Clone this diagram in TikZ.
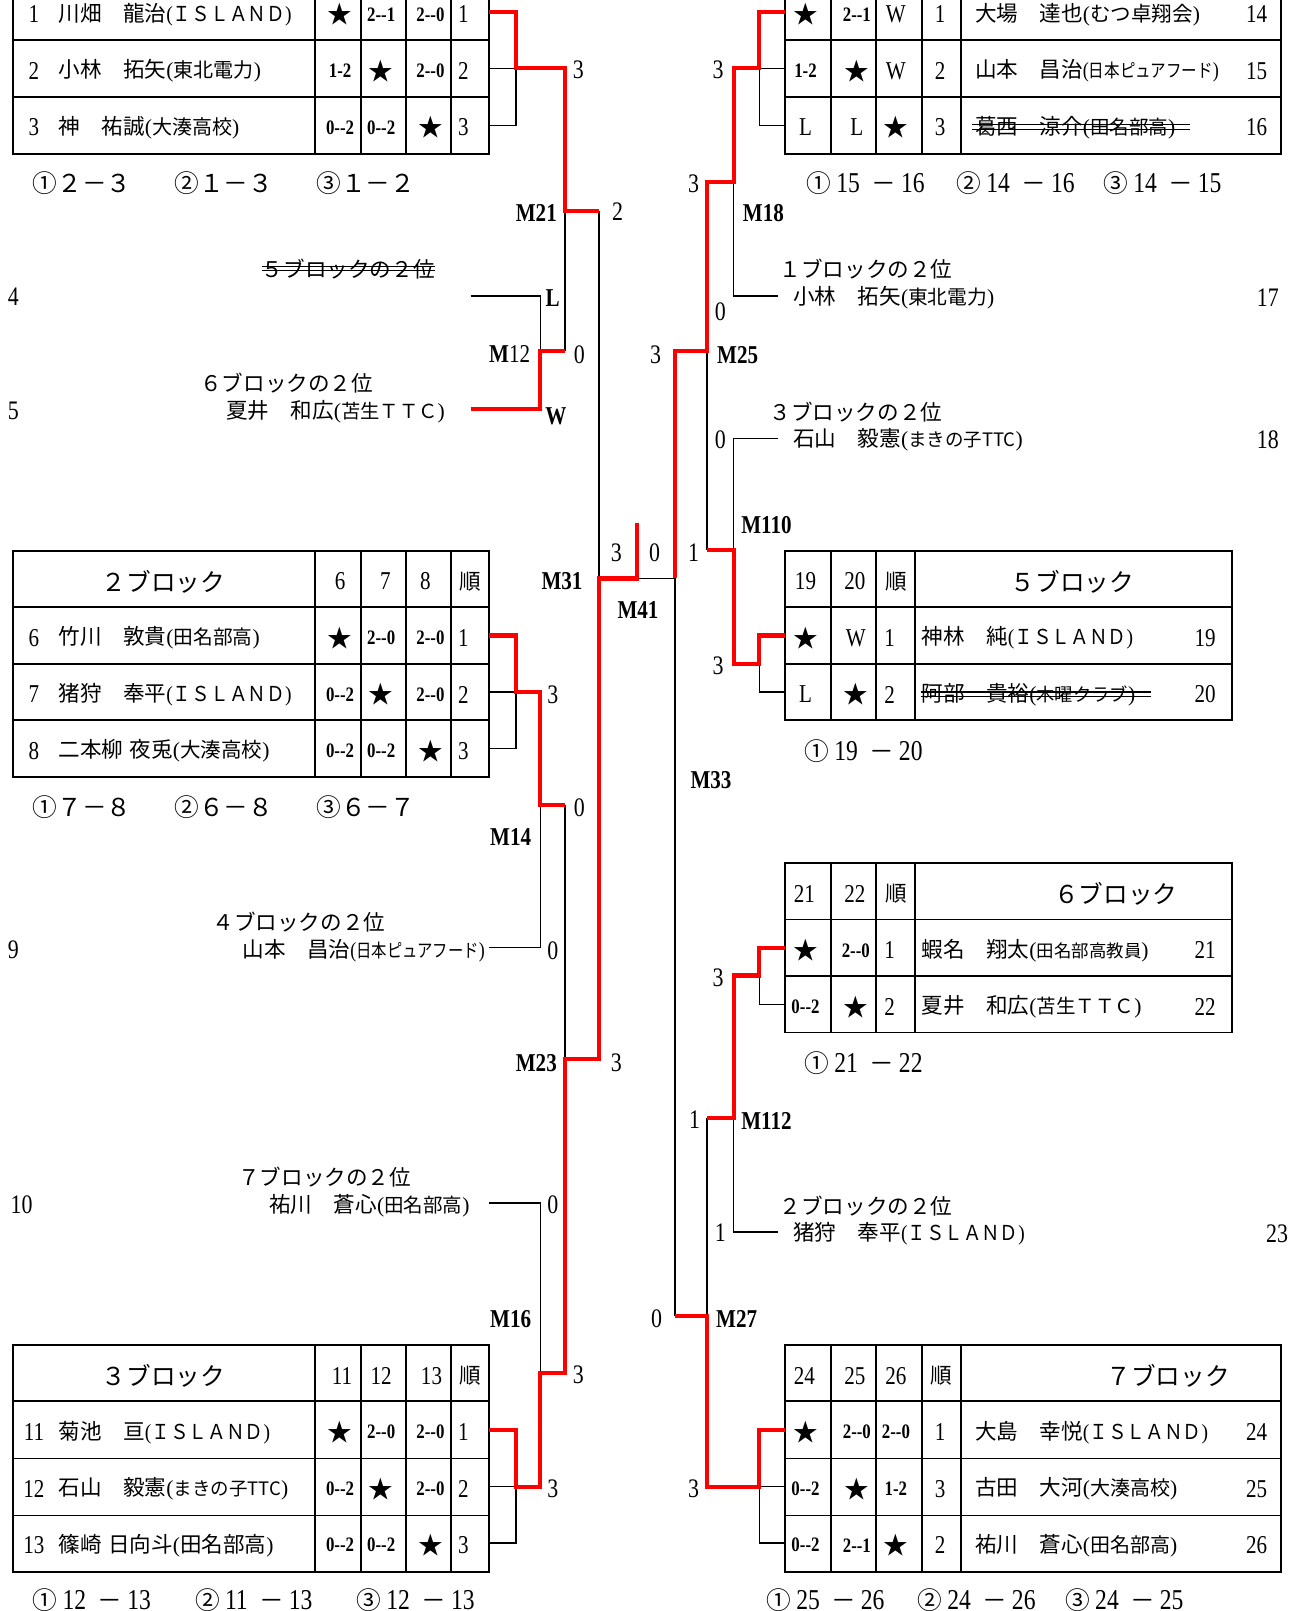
\documentclass[tikz,border=0pt]{standalone}
\usepackage{fontspec}
\usepackage{graphicx}
\setmainfont{Liberation Serif}
\newfontfamily\jp{Noto Sans CJK JP}
\newfontfamily\cnd[FakeStretch=0.82]{Liberation Serif}
\newcommand\fsz[1]{\fontsize{#1}{#1}\selectfont}
\newcommand\xST{{\jp\fsz{24}★}}
\newcommand\xSC[1]{{\cnd\bfseries\fsz{20}#1}}
\newcommand\xDG[1]{{\cnd\fsz{25}#1}}
\newcommand\xLB[1]{{\cnd\fsz{26}#1}}
\newcommand\xML[1]{{\cnd\bfseries\fsz{25}#1}}
\newcommand\xNM[4]{{\jp\fsz{21}#3}\scalebox{#2}[1]{{\fsz{21}(}{\jp\fsz{#1}#4}{\fsz{21})}}}
\newcommand\xHD[1]{{\jp\fsz{21}#1}}
\newcommand\xPL[1]{{\jp\fsz{24}#1}}
\newcommand\xPR[3]{{\jp\fsz{24}#1}\hspace{5pt}{\cnd\fsz{28}#2}\hspace{11pt}{\jp\fsz{24}－}\hspace{5pt}{\cnd\fsz{28}#3}}
\newcommand\xLrow[8]{%
  \node[txt] (#1n) at (33,#2) {\xDG{#3}};
  \node[tw] (#1m) at (57,#2) {#4};
  \node[txt] (#1a) at (331,#2) {#5};
  \node[txt] (#1b) at (371,#2) {#6};
  \node[txt] (#1c) at (419,#2) {#7};
  \node[txt] (#1d) at (451,#2) {\xDG{#8}};}
\newcommand\xRrow[8]{%
  \node[txt] (#1a) at (784,#2) {#3};
  \node[txt] (#1b) at (834,#2) {#4};
  \node[txt] (#1c) at (872,#2) {#5};
  \node[txt] (#1d) at (915,#2) {\xDG{#6}};
  \node[tw] (#1m) at (949,#2) {#7};
  \node[txt] (#1n) at (1223,#2) {\xDG{#8}};}
\newcommand\xSrow[7]{%
  \node[txt] (#1a) at (784,#2) {#3};
  \node[txt] (#1b) at (833,#2) {#4};
  \node[txt] (#1d) at (866,#2) {\xDG{#5}};
  \node[tw] (#1m) at (897,#2) {#6};
  \node[txt] (#1n) at (1173,#2) {\xDG{#7}};}
\begin{document}
\begin{tikzpicture}[x=1pt,y=-1pt,
  txt/.style={inner sep=0pt,outer sep=0pt},
  tw/.style={txt,anchor=west},
  win/.style={draw=red,line width=4pt,line join=miter},
  lose/.style={draw=black,line width=1.5pt},
  tbl/.style={draw=black,line width=1.8pt},
  strk/.style={draw=black,line width=1.2pt}]
\useasboundingbox (0,0) rectangle (1261,1568);
\fill[white] (0,0) rectangle (1261,1568);

% ---------------- tables
\draw[tbl] (13,-16) rectangle (476,150);
\foreach \yy in {39,94}{\draw[tbl] (13,\yy) -- (476,\yy);}
\foreach \xx in {307,351,395,439}{\draw[tbl] (\xx,-16) -- (\xx,150);}
\draw[tbl] (13,536) rectangle (476,756);
\foreach \yy in {591,646,701}{\draw[tbl] (13,\yy) -- (476,\yy);}
\foreach \xx in {307,351,395,439}{\draw[tbl] (\xx,536) -- (\xx,756);}
\draw[tbl] (13,1309) rectangle (476,1530);
\foreach \yy in {1364,1419.5,1475}{\draw[tbl] (13,\yy) -- (476,\yy);}
\foreach \xx in {307,351,395,439}{\draw[tbl] (\xx,1309) -- (\xx,1530);}
\draw[tbl] (764,-16) rectangle (1247,150);
\foreach \yy in {39,94}{\draw[tbl] (764,\yy) -- (1247,\yy);}
\foreach \xx in {809,853,897,935}{\draw[tbl] (\xx,-16) -- (\xx,150);}
\draw[tbl] (764,536) rectangle (1199,701);
\foreach \yy in {591,646}{\draw[tbl] (764,\yy) -- (1199,\yy);}
\foreach \xx in {809,853,890.5}{\draw[tbl] (\xx,536) -- (\xx,701);}
\draw[tbl] (764,840) rectangle (1199,1005);
\foreach \yy in {895,950}{\draw[tbl] (764,\yy) -- (1199,\yy);}
\foreach \xx in {809,853,890.5}{\draw[tbl] (\xx,840) -- (\xx,1005);}
\draw[tbl] (764,1309) rectangle (1247,1530);
\foreach \yy in {1364,1419.5,1475}{\draw[tbl] (764,\yy) -- (1247,\yy);}
\foreach \xx in {809,853,897,935}{\draw[tbl] (\xx,1309) -- (\xx,1530);}

% ---------------- table 1 (block 1)
\xLrow{ta}{14}{1}{\xNM{20}{0.91}{川畑　龍治}{ＩＳＬＡＮＤ}}{\xST}{\xSC{2-{}-1}}{\xSC{2-{}-0}}{1}
\xLrow{tb}{69}{2}{\xNM{19.5}{1}{小林　拓矢}{東北電力}}{\xSC{1-2}}{\xST}{\xSC{2-{}-0}}{2}
\xLrow{tc}{124}{3}{\xNM{19.5}{1}{神　祐誠}{大湊高校}}{\xSC{0-{}-2}}{\xSC{0-{}-2}}{\xST}{3}
\node[tw] (p1a) at (32,178) {\xPL{①２－３}};
\node[tw] (p1b) at (170,178) {\xPL{②１－３}};
\node[tw] (p1c) at (308,178) {\xPL{③１－２}};

% ---------------- table 2
\node[txt] (t2h) at (159,566) {\xPL{２ブロック}};
\node[txt] (t2h6) at (331,566) {\xDG{6}};
\node[txt] (t2h7) at (375,566) {\xDG{7}};
\node[txt] (t2h8) at (414,566) {\xDG{8}};
\node[txt] (t2hr) at (458,566) {\xHD{順}};
\xLrow{td}{621}{6}{\xNM{19.2}{1}{竹川　敦貴}{田名部高}}{\xST}{\xSC{2-{}-0}}{\xSC{2-{}-0}}{1}
\xLrow{te}{676}{7}{\xNM{20}{0.91}{猪狩　奉平}{ＩＳＬＡＮＤ}}{\xSC{0-{}-2}}{\xST}{\xSC{2-{}-0}}{2}
\xLrow{tf}{731}{8}{\xNM{20}{1}{二本柳\hspace{0.3em}夜兎}{大湊高校}}{\xSC{0-{}-2}}{\xSC{0-{}-2}}{\xST}{3}
\node[tw] (p2a) at (32,786) {\xPL{①７－８}};
\node[tw] (p2b) at (170,786) {\xPL{②６－８}};
\node[tw] (p2c) at (308,786) {\xPL{③６－７}};

% ---------------- table 3
\node[txt] (t3h) at (159,1339) {\xPL{３ブロック}};
\node[txt] (t3h1) at (333,1339) {\xDG{11}};
\node[txt] (t3h2) at (371,1339) {\xDG{12}};
\node[txt] (t3h3) at (420,1339) {\xDG{13}};
\node[txt] (t3hr) at (458,1339) {\xHD{順}};
\xLrow{tg}{1394}{11}{\xNM{20}{0.91}{菊池　亘}{ＩＳＬＡＮＤ}}{\xST}{\xSC{2-{}-0}}{\xSC{2-{}-0}}{1}
\xLrow{th}{1449}{12}{\xNM{18}{1}{石山　毅憲}{まきの子TTC}}{\xSC{0-{}-2}}{\xST}{\xSC{2-{}-0}}{2}
\xLrow{ti}{1504}{13}{\xNM{21}{1}{篠崎\hspace{0.3em}日向斗}{田名部高}}{\xSC{0-{}-2}}{\xSC{0-{}-2}}{\xST}{3}
\node[tw] (p3a) at (32,1557) {\xPR{①}{12}{13}};
\node[tw] (p3b) at (190,1557) {\xPR{②}{11}{13}};
\node[tw] (p3c) at (347,1557) {\xPR{③}{12}{13}};

% ---------------- top right table
\xRrow{ra}{14}{\xST}{\xSC{2-{}-1}}{\xDG{W}}{1}{\xNM{20}{1}{大場　達也}{むつ卓翔会}}{14}
\xRrow{rb}{69}{\xSC{1-2}}{\xST}{\xDG{W}}{2}{\xNM{18}{0.84}{山本　昌治}{日本ピュアフード}}{15}
\xRrow{rc}{124}{\xDG{L}}{\xDG{L}}{\xST}{3}{\xNM{19}{1}{葛西　涼介}{田名部高}}{16}
\draw[strk] ([xshift=-3pt,yshift=2.5pt]rcm.west) -- ([xshift=14pt,yshift=2.5pt]rcm.east);
\draw[strk] ([xshift=-3pt,yshift=-1.8pt]rcm.west) -- ([xshift=14pt,yshift=-1.8pt]rcm.east);
\node[tw] (p4a) at (785,178) {\xPR{①}{15}{16}};
\node[tw] (p4b) at (931,178) {\xPR{②}{14}{16}};
\node[tw] (p4c) at (1074,178) {\xPR{③}{14}{15}};

% ---------------- block 5
\node[txt] (b5h1) at (784,566) {\xDG{19}};
\node[txt] (b5h2) at (832,566) {\xDG{20}};
\node[txt] (b5hr) at (872,566) {\xHD{順}};
\node[txt] (b5h) at (1044,566) {\xPL{５ブロック}};
\xSrow{sa}{621}{\xST}{\xDG{W}}{1}{\xNM{20}{0.91}{神林　純}{ＩＳＬＡＮＤ}}{19}
\xSrow{sb}{676}{\xDG{L}}{\xST}{2}{\xNM{17.8}{1}{阿部　貴裕}{木曜クラブ}}{20}
\draw[strk] ([xshift=-1pt,yshift=2.5pt]sbm.west) -- ([xshift=15pt,yshift=2.5pt]sbm.east);
\draw[strk] ([xshift=-1pt,yshift=-1.8pt]sbm.west) -- ([xshift=15pt,yshift=-1.8pt]sbm.east);
\node[tw] (p5a) at (783,731) {\xPR{①}{19}{20}};

% ---------------- block 6
\node[txt] (b6h1) at (783,870) {\xDG{21}};
\node[txt] (b6h2) at (832,870) {\xDG{22}};
\node[txt] (b6hr) at (872,870) {\xHD{順}};
\node[txt] (b6h) at (1086,870) {\xPL{６ブロック}};
\xSrow{sc}{925}{\xST}{\xSC{2-{}-0}}{1}{\xNM{17}{1}{蝦名　翔太}{田名部高教員}}{21}
\xSrow{sd}{980}{\xSC{0-{}-2}}{\xST}{2}{\xNM{19}{1}{夏井　和広}{苫生ＴＴＣ}}{22}
\node[tw] (p6a) at (783,1035) {\xPR{①}{21}{22}};

% ---------------- block 7
\node[txt] (b7h1) at (783,1339) {\xDG{24}};
\node[txt] (b7h2) at (832,1339) {\xDG{25}};
\node[txt] (b7h3) at (872,1339) {\xDG{26}};
\node[txt] (b7hr) at (916,1339) {\xHD{順}};
\node[txt] (b7h) at (1137,1339) {\xPL{７ブロック}};
\xRrow{rd}{1394}{\xST}{\xSC{2-{}-0}}{\xSC{2-{}-0}}{1}{\xNM{20}{0.91}{大島　幸悦}{ＩＳＬＡＮＤ}}{24}
\xRrow{re}{1449}{\xSC{0-{}-2}}{\xST}{\xSC{1-2}}{3}{\xNM{19.5}{1}{古田　大河}{大湊高校}}{25}
\xRrow{rf}{1504}{\xSC{0-{}-2}}{\xSC{2-{}-1}}{\xST}{2}{\xNM{19.5}{1}{祐川　蒼心}{田名部高}}{26}
\node[tw] (p7a) at (746,1557) {\xPR{①}{25}{26}};
\node[tw] (p7b) at (893,1557) {\xPR{②}{24}{26}};
\node[tw] (p7c) at (1037,1557) {\xPR{③}{24}{25}};

% ---------------- seeds
\node[tw] (s5h) at (255,262) {\xHD{５ブロックの２位}};
\draw[strk] ([yshift=2.5pt]s5h.west) -- ([yshift=2.5pt]s5h.east);
\draw[strk] ([yshift=-1.5pt]s5h.west) -- ([yshift=-1.5pt]s5h.east);
\node[tw] (s6h) at (195,373) {\xHD{６ブロックの２位}};
\node[tw] (s6n) at (220,401) {\xNM{18.8}{1}{夏井　和広}{苫生ＴＴＣ}};
\node[tw] (s4h) at (207,897) {\xHD{４ブロックの２位}};
\node[tw] (s4n) at (236,925) {\xNM{18}{0.83}{山本　昌治}{日本ピュアフード}};
\node[tw] (s7h) at (232,1146) {\xHD{７ブロックの２位}};
\node[tw] (s7n) at (262,1174) {\xNM{19}{1}{祐川　蒼心}{田名部高}};
\node[tw] (r1h) at (759,262) {\xHD{１ブロックの２位}};
\node[tw] (r1n) at (772,290) {\xNM{19.2}{1}{小林　拓矢}{東北電力}};
\node[tw] (r3h) at (749,401) {\xHD{３ブロックの２位}};
\node[tw] (r3n) at (772,428) {\xNM{18}{1}{石山　毅憲}{まきの子TTC}};
\node[tw] (r2h) at (759,1174) {\xHD{２ブロックの２位}};
\node[tw] (r2n) at (772,1201) {\xNM{20}{0.9}{猪狩　奉平}{ＩＳＬＡＮＤ}};
\node[txt] (n4) at (13,289) {\xLB{4}};
\node[txt] (n5) at (13,400) {\xLB{5}};
\node[txt] (n9) at (13,924) {\xLB{9}};
\node[txt] (n10) at (21,1173) {\xLB{10}};
\node[txt] (n17) at (1234,290) {\xLB{17}};
\node[txt] (n18) at (1234,428) {\xLB{18}};
\node[txt] (n23) at (1243,1201) {\xLB{23}};

% ---------------- bracket coordinates
\coordinate (L1a) at (476,11.5);  \coordinate (L1b) at (476,66.5);  \coordinate (L1c) at (476,122);
\coordinate (J1) at (502,66.5);   \coordinate (Q1) at (550,66.5);
\coordinate (M21) at (550,205);   \coordinate (M21e) at (583,205);
\coordinate (S4) at (458,288);    \coordinate (S5) at (458,398);
\coordinate (M12) at (526,342);   \coordinate (M12e) at (550,342);
\coordinate (M31) at (583,563);   \coordinate (M41a) at (620,563);
\coordinate (M41t) at (620,509);  \coordinate (M41) at (657,563);
\coordinate (L2a) at (476,618.5); \coordinate (L2b) at (476,673.5); \coordinate (L2c) at (476,728.5);
\coordinate (J2) at (502,673.5);  \coordinate (Q2) at (526,673.5);
\coordinate (M14) at (526,783.5); \coordinate (M14e) at (550,783.5);
\coordinate (S9) at (476,922);
\coordinate (M23) at (550,1031);  \coordinate (M23e) at (583,1031);
\coordinate (S10) at (476,1171);
\coordinate (M16) at (526,1336);  \coordinate (M16e) at (550,1336);
\coordinate (L3a) at (476,1391.5); \coordinate (L3b) at (476,1447); \coordinate (L3c) at (476,1502);
\coordinate (J3) at (502,1447);
\coordinate (R1a) at (764,11.5);  \coordinate (R1b) at (764,66.5);  \coordinate (R1c) at (764,122);
\coordinate (K1) at (739,66.5);   \coordinate (Q3) at (714,66.5);
\coordinate (M18) at (714,177);   \coordinate (M18e) at (688,177);
\coordinate (S17) at (757.5,288);
\coordinate (M25) at (688,342);   \coordinate (M25e) at (657,342);
\coordinate (S18) at (757.5,427);
\coordinate (M110) at (714,535);  \coordinate (M110e) at (688,535);
\coordinate (B5j) at (714,646);   \coordinate (K5) at (739,646);
\coordinate (R5a) at (764,618.5); \coordinate (R5b) at (764,673.5);
\coordinate (R6a) at (764,922.5); \coordinate (R6b) at (764,977.5);
\coordinate (K6) at (739,949.5);  \coordinate (B6j) at (714,949.5);
\coordinate (M112) at (714,1088); \coordinate (M112e) at (688,1088);
\coordinate (S23) at (757.5,1199);
\coordinate (M27) at (688,1281);  \coordinate (M27e) at (657,1281);
\coordinate (B7j) at (688,1447);  \coordinate (K7) at (739,1447);
\coordinate (R7a) at (764,1391.5); \coordinate (R7b) at (764,1447); \coordinate (R7c) at (764,1502);

% ---------------- black connectors
\draw[lose] (L1b) -- (J1);  \draw[lose] (L1c) -| (J1);
\draw[lose] (M21e) -- (M31);  \draw[lose] (M21) -- (M12e);
\draw[lose] (S4) -| (M12);
\draw[lose] (L2b) -- (J2);  \draw[lose] (L2c) -| (J2);
\draw[lose] (S9) -| (M14);  \draw[lose] (M14e) -- (M23);
\draw[lose] (S10) -| (M16);
\draw[lose] (L3b) -- (J3);  \draw[lose] (L3c) -| (J3);
\draw[lose] (M41a) -- (M41);
\draw[lose] (K1) -- (R1b);  \draw[lose] (R1c) -| (K1);
\draw[lose] (S17) -| (M18);
\draw[lose] (M25) -- (M110e);
\draw[lose] (S18) -| (M110);
\draw[lose] (K5) |- (R5b);
\draw[lose] (K6) |- (R6b);
\draw[lose] (S23) -| (M112);
\draw[lose] (M112e) -- (M27);
\draw[lose] (M41) -- (M27e);
\draw[lose] (K7) -- (R7b);  \draw[lose] (K7) |- (R7c);

% ---------------- red connectors
\draw[win] (L1a) -| (J1) -- (Q1) -- (M21) -- (M21e);
\draw[win] (S5) -| (M12) -- (M12e);
\draw[win] (L2a) -| (J2) -- (Q2) -- (M14) -- (M14e);
\draw[win] (L3a) -| (J3) -| (M16) -- (M16e) -- (M23) -- (M23e) -- (M31) -- (M41a) -- (M41t);
\draw[win] (M41) -- (M25e) -- (M25) -- (M18e) -- (M18) -- (Q3) -- (K1) |- (R1a);
\draw[win] (M110e) -- (M110) -- (B5j) -- (K5) |- (R5a);
\draw[win] (R6a) -| (K6) -- (B6j) -- (M112) -- (M112e);
\draw[win] (M27e) -- (M27) -- (B7j) -- (K7) |- (R7a);

% ---------------- labels
\node[txt] (a1) at (563,68) {\xLB{3}};
\node[txt] (lM21) at (522,207) {\xML{M21}};
\node[txt] (a2) at (601,206) {\xLB{2}};
\node[txt] (aL) at (538,290) {\xML{L}};
\node[txt] (lM12) at (496,345) {{\cnd\fsz{25}\textbf{M}12}};
\node[txt] (a3) at (564,345) {\xLB{0}};
\node[txt] (aW) at (541,405) {\xML{W}};
\node[txt] (a4) at (538,676) {\xLB{3}};
\node[txt] (a5) at (564,786) {\xLB{0}};
\node[txt] (lM14) at (497,815) {\xML{M14}};
\node[txt] (a6) at (538,925) {\xLB{0}};
\node[txt] (lM23) at (522,1035) {\xML{M23}};
\node[txt] (a7) at (600,1034) {\xLB{3}};
\node[txt] (a8) at (538,1173) {\xLB{0}};
\node[txt] (lM16) at (497,1284) {\xML{M16}};
\node[txt] (a9) at (563,1338) {\xLB{3}};
\node[txt] (a10) at (538,1449) {\xLB{3}};
\node[txt] (lM31) at (547,566) {\xML{M31}};
\node[txt] (a11) at (600,538) {\xLB{3}};
\node[txt] (a12) at (637,538) {\xLB{0}};
\node[txt] (a13) at (675,538) {\xLB{1}};
\node[txt] (lM41) at (621,594) {\xML{M41}};
\node[txt] (b1) at (699,68) {\xLB{3}};
\node[txt] (b2) at (675,179) {\xLB{3}};
\node[txt] (lM18) at (743,207) {\xML{M18}};
\node[txt] (b3) at (701,303) {\xLB{0}};
\node[txt] (b4) at (638,345) {\xLB{3}};
\node[txt] (lM25) at (718,346) {\xML{M25}};
\node[txt] (b5) at (701,428) {\xLB{0}};
\node[txt] (lM110) at (746,511) {\xML{M110}};
\node[txt] (b6) at (699,648) {\xLB{3}};
\node[txt] (lM33) at (692,759) {\xML{M33}};
\node[txt] (b7) at (699,952) {\xLB{3}};
\node[txt] (b8) at (676,1090) {\xLB{1}};
\node[txt] (lM112) at (746,1091) {\xML{M112}};
\node[txt] (b9) at (701,1200) {\xLB{1}};
\node[txt] (b10) at (639,1284) {\xLB{0}};
\node[txt] (lM27) at (717,1284) {\xML{M27}};
\node[txt] (b11) at (675,1449) {\xLB{3}};
\end{tikzpicture}
\end{document}
